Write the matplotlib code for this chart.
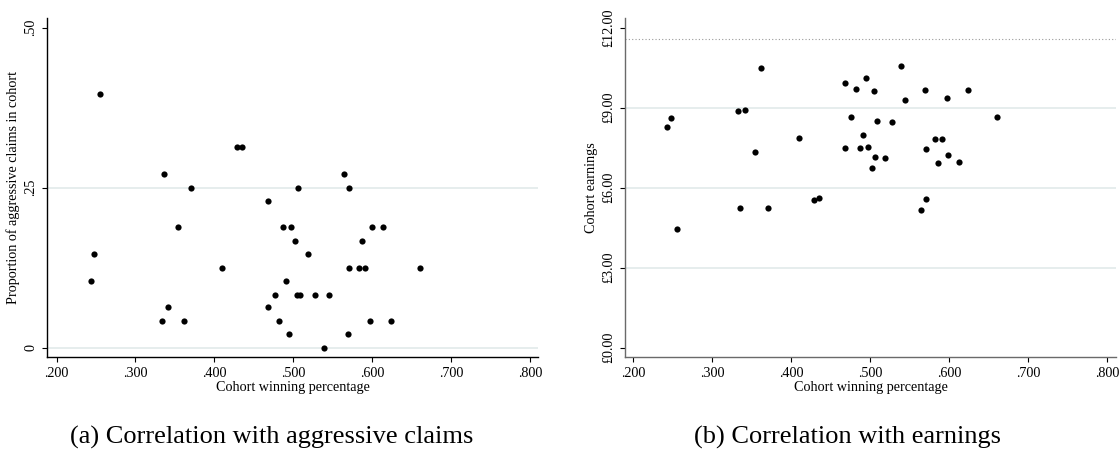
import matplotlib.pyplot as plt

plt.rcParams['font.family'] = ['Liberation Serif', 'DejaVu Serif']

# cohort winning percentage (shared by both panels)
win_pct = [0.2432, 0.2477, 0.2550, 0.3332, 0.3357, 0.3416, 0.3538, 0.3616, 0.3702, 0.4100,
           0.4283, 0.4351, 0.4677, 0.4679, 0.4763, 0.4819, 0.4871, 0.4911, 0.4946, 0.4968,
           0.5025, 0.5052, 0.5061, 0.5084, 0.5188, 0.5276, 0.5387, 0.5445, 0.5644, 0.5694,
           0.5703, 0.5705, 0.5827, 0.5863, 0.5904, 0.5967, 0.5990, 0.6130, 0.6234, 0.6603]

aggressive = [0.104, 0.146, 0.396, 0.042, 0.271, 0.063, 0.188, 0.042, 0.250, 0.125,
              0.313, 0.313, 0.063, 0.229, 0.083, 0.042, 0.188, 0.104, 0.021, 0.188,
              0.167, 0.083, 0.250, 0.083, 0.146, 0.083, 0.000, 0.083, 0.271, 0.021,
              0.125, 0.250, 0.125, 0.167, 0.125, 0.042, 0.188, 0.188, 0.042, 0.125]

earnings = [8.28, 8.62, 4.45, 8.87, 5.25, 8.91, 7.34, 10.50, 5.25, 7.87,
            5.54, 5.63, 9.92, 7.50, 8.67, 9.71, 7.50, 7.96, 10.12, 7.53,
            6.75, 9.63, 7.16, 8.50, 7.12, 8.46, 10.58, 9.29, 5.16, 9.66,
            7.46, 5.58, 7.83, 6.91, 7.83, 9.37, 7.21, 6.96, 9.66, 8.66]

x_ticks = [0.2, 0.3, 0.4, 0.5, 0.6, 0.7, 0.8]
x_labels = ['.200', '.300', '.400', '.500', '.600', '.700', '.800']
left_yticks = [0, 0.25, 0.5]
left_ylabels = ['0', '.25', '.50']
right_yticks = [0, 3, 6, 9, 12]
right_ylabels = ['£0.00', '£3.00', '£6.00', '£9.00', '£12.00']
ref_line = 11.574

grid_col = '#e4ecec'
fs = 10.2

fig = plt.figure(figsize=(11.2, 4.5), dpi=100)
ax1 = fig.add_axes([0.0421, 0.2073, 0.4387, 0.752])
ax2 = fig.add_axes([0.5583, 0.2073, 0.4385, 0.752])


def style(ax, spine_col):
    for s in ['top', 'right']:
        ax.spines[s].set_visible(False)
    for s in ['left', 'bottom']:
        ax.spines[s].set_color(spine_col)
        ax.spines[s].set_linewidth(1.0)
    ax.tick_params(direction='out', length=3.6, width=0.8, labelsize=fs, pad=3.5, color='black')
    ax.set_xticks(x_ticks)
    ax.set_xticklabels(x_labels)
    ax.set_xlabel('Cohort winning percentage', fontsize=fs, labelpad=1)


# (a) aggressive claims
for g in [0, 0.25]:
    ax1.axhline(g, color=grid_col, lw=1.3, zorder=0)
ax1.scatter(win_pct, aggressive, s=20, color='black', zorder=3, linewidths=0)
ax1.set_xlim(0.1881, 0.8105)
ax1.set_ylim(-0.0141, 0.5147)
style(ax1, 'black')
ax1.set_yticks(left_yticks)
ax1.set_yticklabels(left_ylabels, rotation=90, va='center')
ax1.set_ylabel('Proportion of aggressive claims in cohort', fontsize=fs, labelpad=3)

# (b) earnings
for g in [3, 6, 9]:
    ax2.axhline(g, color=grid_col, lw=1.3, zorder=0)
ax2.axhline(ref_line, color='#9a9a9a', lw=0.8, ls=(0, (1, 2)), zorder=1)
ax2.scatter(win_pct, earnings, s=20, color='black', zorder=3, linewidths=0)
ax2.set_xlim(0.190, 0.8118)
ax2.set_ylim(-0.3375, 12.3525)
style(ax2, '#6a6a6a')
ax2.set_yticks(right_yticks)
ax2.set_yticklabels(right_ylabels, rotation=90, va='center')
ax2.set_ylabel('Cohort earnings', fontsize=fs, labelpad=3)

fig.text(272 / 1120, 0.0133, '(a) Correlation with aggressive claims', ha='center', va='baseline', fontsize=19)
fig.text(847 / 1120, 0.0133, '(b) Correlation with earnings', ha='center', va='baseline', fontsize=19)

plt.savefig('out.png', dpi=100)
